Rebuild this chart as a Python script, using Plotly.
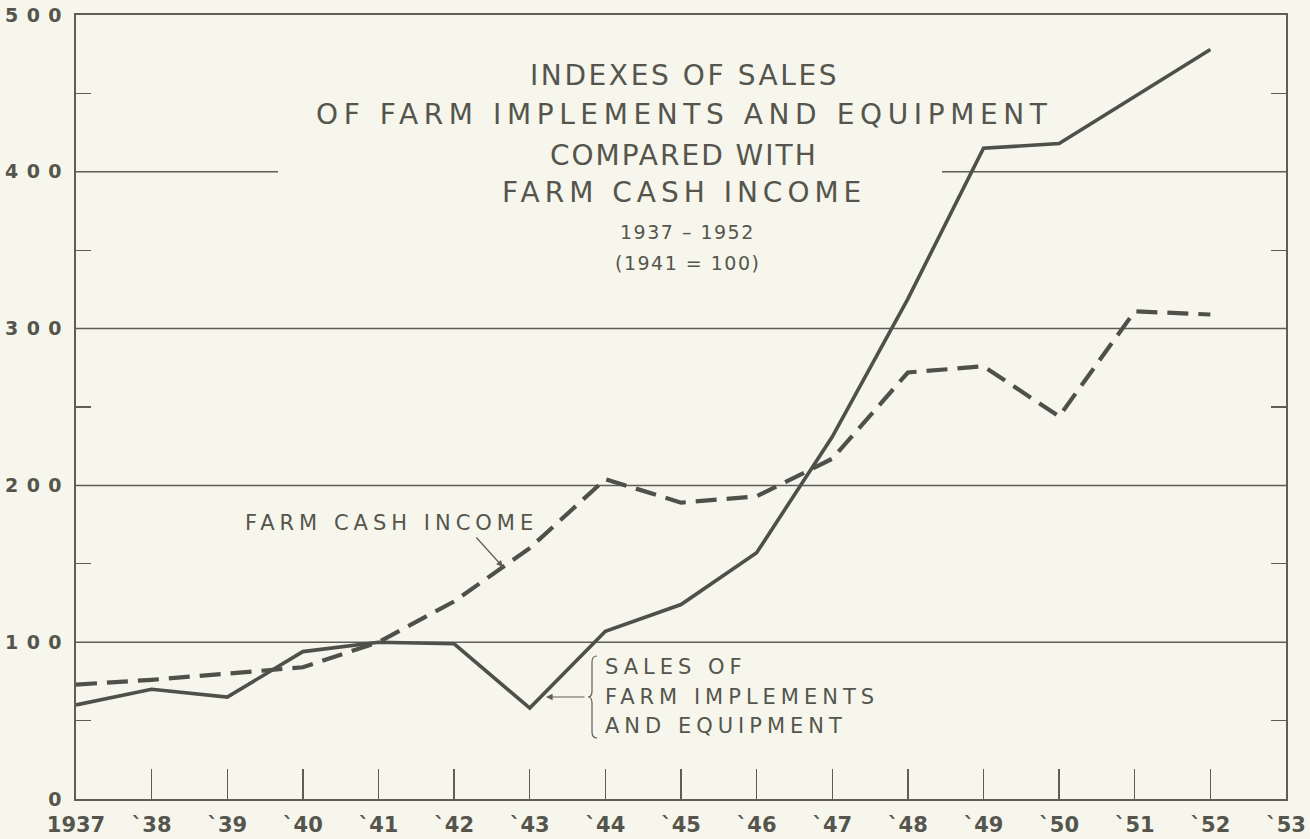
import plotly.graph_objects as go

# ---------------- data ----------------
years = [1937, 1938, 1939, 1940, 1941, 1942, 1943, 1944,
         1945, 1946, 1947, 1948, 1949, 1950, 1951, 1952]
sales_index = [60, 70, 65, 94, 100, 99, 58, 107,
               124, 157, 231, 319, 415, 418, 448, 478]
income_index = [73, 76, 80, 84, 100, 126, 160, 204,
                189, 193, 217, 272, 276, 244, 311, 309]

x_tick_vals = list(range(1937, 1954))
x_tick_text = ["1937"] + ["\u02cb%02d" % (y % 100) for y in range(1938, 1954)]
y_tick_vals = [0, 100, 200, 300, 400, 500]
y_tick_text = ["0", "100", "200", "300", "400", "500"]
y_minor_vals = [50, 150, 250, 350, 450]
grid_full = [100, 200, 300]

title_lines = ["INDEXES OF SALES",
               "OF FARM IMPLEMENTS AND EQUIPMENT",
               "COMPARED WITH",
               "FARM CASH INCOME"]
sub_lines = ["1937 \u2013 1952", "(1941 = 100)"]
sales_label = ["SALES OF", "FARM IMPLEMENTS", "AND EQUIPMENT"]
income_label = "FARM CASH INCOME"

# ---------------- style / layout constants ----------------
W, H = 1310, 839
ML, MR, MT, MB = 76, 24, 15, 40
BG = "#f6f6ec"
INK = "#50504a"
AX = "#5e5e57"
TXT = "#55554d"
FONT = "DejaVu Sans"

X0, X1 = 1937, 1953
Y0, Y1 = 0, 500
PW = W - ML - MR
PH = H - MT - MB


def px_x(px):
    return X0 + (px - ML) / PW * (X1 - X0)


def px_y(py):
    return Y0 + (H - MB - py) / PH * (Y1 - Y0)


def spaced(s, ls):
    return "<span style='letter-spacing:%spx'>%s</span>" % (ls, s)


def spaced_digits(s, ls):
    # letter-spacing between digits only (no trailing gap after the last one)
    if len(s) < 2:
        return s
    return "<span style='letter-spacing:%spx'>%s</span>%s" % (ls, s[:-1], s[-1])


fig = go.Figure()

fig.add_trace(go.Scatter(
    x=years, y=income_index, mode="lines",
    line=dict(color=INK, width=4.2, dash="21px,10px"),
    hoverinfo="skip"))
fig.add_trace(go.Scatter(
    x=years, y=sales_index, mode="lines",
    line=dict(color=INK, width=3.6),
    hoverinfo="skip"))

shapes = []
for g in grid_full:
    shapes.append(dict(type="line", xref="x", yref="y", x0=X0, x1=X1, y0=g, y1=g,
                       line=dict(color=AX, width=1.5), layer="below"))
# broken 400 line (interrupted by the title block)
shapes.append(dict(type="line", xref="x", yref="y", x0=X0, x1=px_x(278), y0=400, y1=400,
                   line=dict(color=AX, width=1.5), layer="below"))
shapes.append(dict(type="line", xref="x", yref="y", x0=px_x(942), x1=X1, y0=400, y1=400,
                   line=dict(color=AX, width=1.5), layer="below"))

# brace next to the sales label
bx, btop, bbot, bmid = 597, 656, 738, 697
path = ("M {0},{1} Q {2},{1} {2},{3} L {2},{4} Q {2},{5} {6},{5} "
        "Q {2},{5} {2},{7} L {2},{8} Q {2},{9} {0},{9}").format(
    px_x(bx), px_y(btop), px_x(bx - 5), px_y(btop + 6), px_y(bmid - 6),
    px_y(bmid), px_x(bx - 9), px_y(bmid + 6), px_y(bbot - 6), px_y(bbot))
shapes.append(dict(type="path", xref="x", yref="y", path=path,
                   line=dict(color=AX, width=1.2)))

annotations = []
title_y = [75, 114, 155, 192]
title_ls = [2.6, 5.6, 2.0, 5.0]
for t, yy, ls in zip(title_lines, title_y, title_ls):
    annotations.append(dict(x=px_x(684), y=px_y(yy), xref="x", yref="y",
                            text=spaced(t, ls), showarrow=False,
                            xanchor="center", yanchor="middle",
                            font=dict(family=FONT, size=28, color=TXT)))
for t, yy in zip(sub_lines, [232, 263]):
    annotations.append(dict(x=px_x(687), y=px_y(yy), xref="x", yref="y",
                            text=spaced(t, 1.5), showarrow=False,
                            xanchor="center", yanchor="middle",
                            font=dict(family=FONT, size=19, color=TXT)))

# farm cash income label + arrow
annotations.append(dict(x=px_x(391), y=px_y(523), xref="x", yref="y",
                        text=spaced(income_label, 5.0), showarrow=False,
                        xanchor="center", yanchor="middle",
                        font=dict(family=FONT, size=21, color=TXT)))
annotations.append(dict(x=px_x(503), y=px_y(567), xref="x", yref="y",
                        ax=-28, ay=-31, text="", showarrow=True,
                        arrowhead=2, arrowsize=1.1, arrowwidth=1.2, arrowcolor=AX))

# sales label + arrow
for t, yy in zip(sales_label, [667, 697, 726]):
    annotations.append(dict(x=px_x(603), y=px_y(yy), xref="x", yref="y",
                            text=spaced(t, 5.0), showarrow=False,
                            xanchor="left", yanchor="middle",
                            font=dict(family=FONT, size=21, color=TXT)))
annotations.append(dict(x=px_x(546), y=px_y(697), xref="x", yref="y",
                        ax=40, ay=0, text="", showarrow=True,
                        arrowhead=2, arrowsize=1.1, arrowwidth=1.2, arrowcolor=AX))

fig.update_layout(
    width=W, height=H, autosize=False,
    margin=dict(l=ML, r=MR, t=MT, b=MB, pad=0, autoexpand=False),
    paper_bgcolor=BG, plot_bgcolor=BG, showlegend=False,
    shapes=shapes, annotations=annotations,
    xaxis=dict(range=[X0, X1], tickmode="array", tickvals=x_tick_vals,
               ticktext=x_tick_text, ticks="inside", ticklen=30, tickwidth=1.3,
               tickcolor=AX, showline=True, linecolor=AX, linewidth=1.6,
               mirror=True, showgrid=False, zeroline=False, automargin=False,
               ticklabelstandoff=6,
               tickfont=dict(family=FONT, size=21, color=TXT, weight="bold")),
    yaxis=dict(range=[Y0, Y1], tickmode="array", tickvals=y_tick_vals,
               ticktext=[spaced_digits(t, 8.5) for t in y_tick_text],
               ticks="inside", ticklen=15, tickwidth=1.3, tickcolor=AX,
               showline=True, linecolor=AX, linewidth=1.6, mirror="ticks",
               showgrid=False, zeroline=False, automargin=False,
               ticklabelstandoff=9,
               minor=dict(tickmode="array", tickvals=y_minor_vals, ticks="inside",
                          ticklen=15, tickwidth=1.3, tickcolor=AX, showgrid=False),
               tickfont=dict(family=FONT, size=19, color=TXT, weight="bold")),
)

fig.write_html(
    "out.html",
    config={"displayModeBar": False, "staticPlot": True},
    post_script="document.body.style.margin='0';"
                "document.body.style.background='%s';" % BG)
